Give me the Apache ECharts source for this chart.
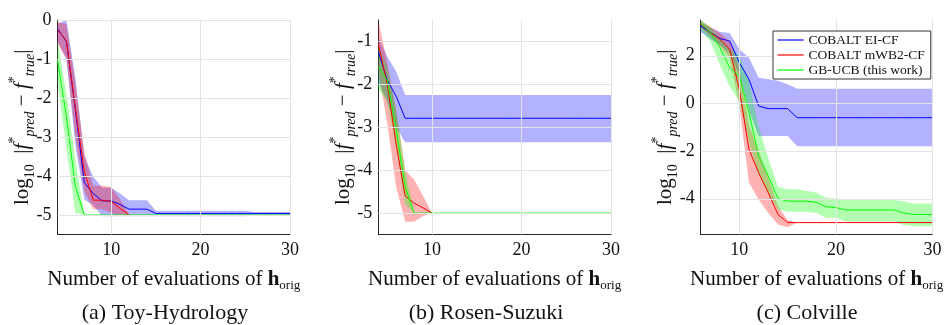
<!DOCTYPE html>
<html>
<head>
<meta charset="utf-8">
<script src="https://cdn.jsdelivr.net/npm/echarts@6/dist/echarts.min.js"></script>
<style>
html,body{margin:0;padding:0;background:#fff;}
#chart{width:950px;height:325px;}
</style>
</head>
<body>
<div id="chart"></div>
<script>
// ---------- DATA ----------
const seriesNames = ['COBALT EI-CF', 'COBALT mWB2-CF', 'GB-UCB (this work)'];
const captions = ['(a) Toy-Hydrology', '(b) Rosen-Suzuki', '(c) Colville'];

// Panel (a) Toy-Hydrology
const toyX = [4,5,6,7,8,9,10,11,12,13,14,15,16,17,18,19,20,21,22,23,24,25,26,27,28,29,30];
const toyBlueMean = [-0.22,-0.55,-2.3,-4.17,-4.45,-4.64,-4.64,-4.73,-4.85,-4.85,-4.85,-4.96,-4.96,-4.96,-4.96,-4.96,-4.96,-4.96,-4.96,-4.96,-4.96,-4.96,-4.96,-4.96,-4.96,-4.96,-4.96];
const toyBlueLo   = [-0.55,-1.0,-3.2,-4.6,-4.75,-5.03,-5.03,-5.03,-5.03,-5.03,-5.03,-5.03,-5.03,-5.03,-5.03,-5.03,-5.03,-5.03,-5.03,-5.03,-5.03,-5.03,-5.0,-5.0,-5.0,-5.0,-5.0];
const toyBlueHi   = [-0.1,0.0,-1.5,-3.5,-4.02,-4.3,-4.3,-4.45,-4.62,-4.62,-4.62,-4.89,-4.89,-4.89,-4.89,-4.89,-4.89,-4.89,-4.89,-4.89,-4.89,-4.89,-4.92,-4.92,-4.92,-4.92,-4.92];
const toyRedX = [4,5,6,7,8,9,10,11,12];
const toyRedMean = [-0.25,-0.53,-2.26,-3.89,-4.62,-4.62,-4.65,-4.83,-5.0];
const toyRedLo   = [-0.6,-1.0,-3.0,-4.4,-4.85,-4.85,-4.95,-5.02,-5.02];
const toyRedHi   = [-0.05,-0.1,-1.6,-3.4,-4.25,-4.25,-4.28,-4.6,-4.98];
const toyGreenMean = [-1.03,-2.48,-4.27,-5.0,-5.0,-5.0,-5.0,-5.0,-5.0,-5.0,-5.0,-5.0,-5.0,-5.0,-5.0,-5.0,-5.0,-5.0,-5.0,-5.0,-5.0,-5.0,-5.0,-5.0,-5.0,-5.0,-5.0];
const toyGreenLo   = [-1.6,-3.3,-4.95,-5.0,-5.0,-5.0,-5.0,-5.0,-5.0,-5.0,-5.0,-5.0,-5.0,-5.0,-5.0,-5.0,-5.0,-5.0,-5.0,-5.0,-5.0,-5.0,-5.0,-5.0,-5.0,-5.0,-5.0];
const toyGreenHi   = [-0.5,-1.9,-3.6,-5.0,-5.0,-5.0,-5.0,-5.0,-5.0,-5.0,-5.0,-5.0,-5.0,-5.0,-5.0,-5.0,-5.0,-5.0,-5.0,-5.0,-5.0,-5.0,-5.0,-5.0,-5.0,-5.0,-5.0];

// Panel (b) Rosen-Suzuki
const rsX = [4,5,6,7,8,9,10,11,12,13,14,15,16,17,18,19,20,21,22,23,24,25,26,27,28,29,30];
const rsBlueMean = [-1.24,-1.9,-2.28,-2.79,-2.79,-2.79,-2.79,-2.79,-2.79,-2.79,-2.79,-2.79,-2.79,-2.79,-2.79,-2.79,-2.79,-2.79,-2.79,-2.79,-2.79,-2.79,-2.79,-2.79,-2.79,-2.79,-2.79];
const rsBlueLo   = [-1.95,-2.4,-3.0,-3.35,-3.35,-3.35,-3.35,-3.35,-3.35,-3.35,-3.35,-3.35,-3.35,-3.35,-3.35,-3.35,-3.35,-3.35,-3.35,-3.35,-3.35,-3.35,-3.35,-3.35,-3.35,-3.35,-3.35];
const rsBlueHi   = [-0.9,-1.35,-1.7,-2.25,-2.25,-2.25,-2.25,-2.25,-2.25,-2.25,-2.25,-2.25,-2.25,-2.25,-2.25,-2.25,-2.25,-2.25,-2.25,-2.25,-2.25,-2.25,-2.25,-2.25,-2.25,-2.25,-2.25];
const rsRedX = [4,5,6,7,8,9,10];
const rsRedMean = [-1.05,-2.0,-3.4,-4.6,-4.77,-4.88,-5.0];
const rsRedLo   = [-1.7,-2.9,-4.4,-5.2,-5.2,-5.07,-5.0];
const rsRedHi   = [-0.5,-1.5,-2.6,-4.0,-4.22,-4.6,-5.0];
const rsGreenMean = [-1.59,-1.9,-3.06,-4.38,-5.0,-5.0,-5.0,-5.0,-5.0,-5.0,-5.0,-5.0,-5.0,-5.0,-5.0,-5.0,-5.0,-5.0,-5.0,-5.0,-5.0,-5.0,-5.0,-5.0,-5.0,-5.0,-5.0];
const rsGreenLo   = [-2.1,-2.4,-3.5,-4.8,-5.0,-5.0,-5.0,-5.0,-5.0,-5.0,-5.0,-5.0,-5.0,-5.0,-5.0,-5.0,-5.0,-5.0,-5.0,-5.0,-5.0,-5.0,-5.0,-5.0,-5.0,-5.0,-5.0];
const rsGreenHi   = [-1.1,-1.6,-2.6,-4.0,-5.0,-5.0,-5.0,-5.0,-5.0,-5.0,-5.0,-5.0,-5.0,-5.0,-5.0,-5.0,-5.0,-5.0,-5.0,-5.0,-5.0,-5.0,-5.0,-5.0,-5.0,-5.0,-5.0];

// Panel (c) Colville
const colX = [6,7,8,9,10,11,12,13,14,15,16,17,18,19,20,21,22,23,24,25,26,27,28,29,30];
const colBlueMean = [3.25,2.97,2.72,2.62,1.71,1.01,-0.11,-0.22,-0.22,-0.22,-0.6,-0.6,-0.6,-0.6,-0.6,-0.6,-0.6,-0.6,-0.6,-0.6,-0.6,-0.6,-0.6,-0.6,-0.6];
const colBlueLo   = [3.0,2.7,2.45,2.1,1.2,-0.3,-1.37,-1.37,-1.37,-1.37,-1.8,-1.8,-1.8,-1.8,-1.8,-1.8,-1.8,-1.8,-1.8,-1.8,-1.8,-1.8,-1.8,-1.8,-1.8];
const colBlueHi   = [3.4,3.2,3.0,2.95,2.27,1.92,1.08,1.01,0.95,0.8,0.62,0.62,0.62,0.62,0.62,0.62,0.62,0.62,0.62,0.62,0.62,0.62,0.62,0.62,0.62];
const colRedMean = [3.32,2.97,2.69,2.27,0.59,-1.93,-2.91,-3.75,-4.66,-5.0,-5.0,-5.0,-5.0,-5.0,-5.0,-5.0,-5.0,-5.0,-5.0,-5.0,-5.0,-5.0,-5.0,-5.0,-5.0];
const colRedLo   = [3.2,2.8,2.4,1.9,-0.1,-3.33,-4.03,-4.6,-5.08,-5.2,-5.0,-5.0,-5.0,-5.0,-5.0,-5.0,-5.0,-5.0,-5.0,-5.0,-5.0,-5.0,-5.0,-5.0,-5.0];
const colRedHi   = [3.5,3.2,2.95,2.6,1.5,-0.9,-2.0,-3.1,-4.3,-4.9,-5.0,-5.0,-5.0,-5.0,-5.0,-5.0,-5.0,-5.0,-5.0,-5.0,-5.0,-5.0,-5.0,-5.0,-5.0];
const colGreenMean = [3.36,2.97,2.34,1.5,1.15,-0.39,-2.21,-3.05,-3.99,-4.1,-4.1,-4.1,-4.15,-4.34,-4.37,-4.47,-4.47,-4.47,-4.47,-4.47,-4.47,-4.59,-4.66,-4.66,-4.66];
const colGreenLo   = [3.1,2.6,1.6,0.7,0.1,-1.6,-3.0,-3.8,-4.45,-4.55,-4.55,-4.55,-4.6,-4.8,-4.8,-4.95,-4.95,-4.95,-4.95,-4.95,-4.95,-5.1,-5.15,-5.15,-5.15];
const colGreenHi   = [3.5,3.2,2.75,2.3,2.0,0.9,-1.0,-2.3,-3.5,-3.6,-3.6,-3.68,-3.75,-3.96,-3.98,-4.05,-4.05,-4.05,-4.05,-4.05,-4.05,-4.1,-4.2,-4.2,-4.2];

// Axis ranges / ticks
const xMins = [4, 4, 6];
const xMax = 30;
const xTickValues = [10, 20, 30];
const yMins = [-5.5, -5.5, -5.5];
const yMaxs = [0, -0.5, 3.5];
const yTickValues = [[-5, -4, -3, -2, -1, 0], [-5, -4, -3, -2, -1], [-4, -2, 0, 2]];

// ---------- STYLE ----------
const SERIF = '"Liberation Serif", "DejaVu Serif", serif';
const COLORS = ['#0000ff', '#ff0000', '#00ff00'];
const BANDS = ['rgba(0,0,255,0.3)', 'rgba(255,0,0,0.3)', 'rgba(0,255,0,0.3)'];
const GRIDCOL = '#e3e3e3';
const grids = [
  {left: 57.5, top: 20, width: 232.5, height: 214.5},
  {left: 378.3, top: 20, width: 232.7, height: 214.5},
  {left: 700.7, top: 20, width: 231.8, height: 214.5}
];
const captionX = [165, 486, 807];

function band(idx, xs, lo, hi, color) {
  return {
    type: 'custom', xAxisIndex: idx, yAxisIndex: idx, silent: true, clip: true, z: 1,
    data: xs.map((x, k) => [x, lo[k], hi[k]]),
    encode: {x: 0, y: [1, 2]},
    renderItem: function (params, api) {
      if (params.dataIndex !== 0) return;
      const up = [], dn = [];
      for (let k = 0; k < xs.length; k++) {
        up.push(api.coord([xs[k], hi[k]]));
        dn.push(api.coord([xs[k], lo[k]]));
      }
      return {type: 'polygon', shape: {points: up.concat(dn.reverse())}, style: {fill: color}};
    }
  };
}
function line(idx, name, xs, ys, color) {
  return {
    type: 'line', name: name, xAxisIndex: idx, yAxisIndex: idx, z: 3,
    data: xs.map((x, k) => [x, ys[k]]),
    symbol: 'none', showSymbol: false,
    lineStyle: {width: 1, color: color}, itemStyle: {color: color}
  };
}
function gridLines(idx) {
  const d = [];
  xTickValues.forEach(v => d.push({xAxis: v}));
  yTickValues[idx].forEach(v => d.push({yAxis: v}));
  return {
    type: 'line', xAxisIndex: idx, yAxisIndex: idx, data: [], z: 0, silent: true,
    markLine: {silent: true, symbol: 'none', label: {show: false}, animation: false,
      lineStyle: {color: GRIDCOL, width: 1, type: 'solid'}, emphasis: {disabled: true}, data: d}
  };
}

const panels = [
  {bx: [toyX, toyRedX, toyX], m: [toyBlueMean, toyRedMean, toyGreenMean], lo: [toyBlueLo, toyRedLo, toyGreenLo], hi: [toyBlueHi, toyRedHi, toyGreenHi]},
  {bx: [rsX, rsRedX, rsX], m: [rsBlueMean, rsRedMean, rsGreenMean], lo: [rsBlueLo, rsRedLo, rsGreenLo], hi: [rsBlueHi, rsRedHi, rsGreenHi]},
  {bx: [colX, colX, colX], m: [colBlueMean, colRedMean, colGreenMean], lo: [colBlueLo, colRedLo, colGreenLo], hi: [colBlueHi, colRedHi, colGreenHi]}
];

const series = [];
panels.forEach((p, i) => {
  series.push(gridLines(i));
  for (let s = 0; s < 3; s++) series.push(band(i, p.bx[s], p.lo[s], p.hi[s], BANDS[s]));
  for (let s = 0; s < 3; s++) series.push(line(i, seriesNames[s], p.bx[s], p.m[s], COLORS[s]));
});

const yNameRich = {
  a: {fontFamily: SERIF, fontSize: 21, color: '#111', lineHeight: 30},
  s: {fontFamily: SERIF, fontSize: 14, color: '#111', verticalAlign: 'bottom'},
  i: {fontFamily: SERIF, fontSize: 21, fontStyle: 'italic', color: '#111', lineHeight: 30},
  sp: {fontFamily: SERIF, fontSize: 14, color: '#111', verticalAlign: 'top'},
  si: {fontFamily: SERIF, fontSize: 14, fontStyle: 'italic', color: '#111', verticalAlign: 'bottom'}
};
const yName = '{a|log}{s|10}{a|  |}{i|f}{sp|*}{si|pred}{a| − }{i|f}{sp|*}{si|true}{a||}';
const xNameRich = {
  a: {fontFamily: SERIF, fontSize: 21, color: '#111', lineHeight: 26},
  b: {fontFamily: SERIF, fontSize: 21, fontWeight: 'bold', color: '#111', lineHeight: 26},
  s: {fontFamily: SERIF, fontSize: 13, color: '#111', verticalAlign: 'bottom'}
};
const xName = '{a|Number of evaluations of }{b|h}{s|orig}';

const xAxes = [0, 1, 2].map(i => ({
  type: 'value', gridIndex: i, min: xMins[i], max: xMax,
  axisLine: {show: true, onZero: false, lineStyle: {color: '#262626', width: 1}},
  axisTick: {show: true, inside: true, length: 3, customValues: xTickValues, lineStyle: {color: '#262626'}},
  axisLabel: {customValues: xTickValues, fontFamily: SERIF, fontSize: 18, color: '#111', margin: 7, hideOverlap: false},
  splitLine: {show: false},
  name: xName, nameLocation: 'middle', nameGap: 32, nameMoveOverlap: false,
  nameTextStyle: {rich: xNameRich}
}));
const yAxes = [0, 1, 2].map(i => ({
  type: 'value', gridIndex: i, min: yMins[i], max: yMaxs[i],
  axisLine: {show: true, onZero: false, lineStyle: {color: '#262626', width: 1}},
  axisTick: {show: true, inside: true, length: 3, customValues: yTickValues[i], lineStyle: {color: '#262626'}},
  axisLabel: {customValues: yTickValues[i], interval: 0, hideOverlap: false, fontFamily: SERIF, fontSize: 18, lineHeight: 18, color: '#111', margin: 6},
  splitLine: {show: false},
  name: yName, nameLocation: 'middle', nameGap: 20, nameMoveOverlap: false,
  nameTextStyle: {rich: yNameRich}
}));

const chart = echarts.init(document.getElementById('chart'), null, {renderer: 'canvas'});
chart.setOption({
  animation: false,
  backgroundColor: '#fff',
  grid: grids,
  xAxis: xAxes,
  yAxis: yAxes,
  legend: {
    data: seriesNames, orient: 'vertical', left: 773, top: 31, z: 100, zlevel: 0,
    backgroundColor: '#fff', borderColor: '#333', borderWidth: 1, borderRadius: 0,
    padding: [2, 6, 2, 4], itemGap: 1, itemWidth: 26, itemHeight: 15,
    itemStyle: {opacity: 0},
    lineStyle: {width: 1.2},
    textStyle: {fontFamily: SERIF, fontSize: 13.5, color: '#111'},
    selectedMode: false
  },
  graphic: captions.map((c, i) => ({
    type: 'text', x: captionX[i], y: 302,
    style: {text: c, font: '22px ' + SERIF, fill: '#111', textAlign: 'center'}
  })),
  series: series
});
</script>
</body>
</html>
